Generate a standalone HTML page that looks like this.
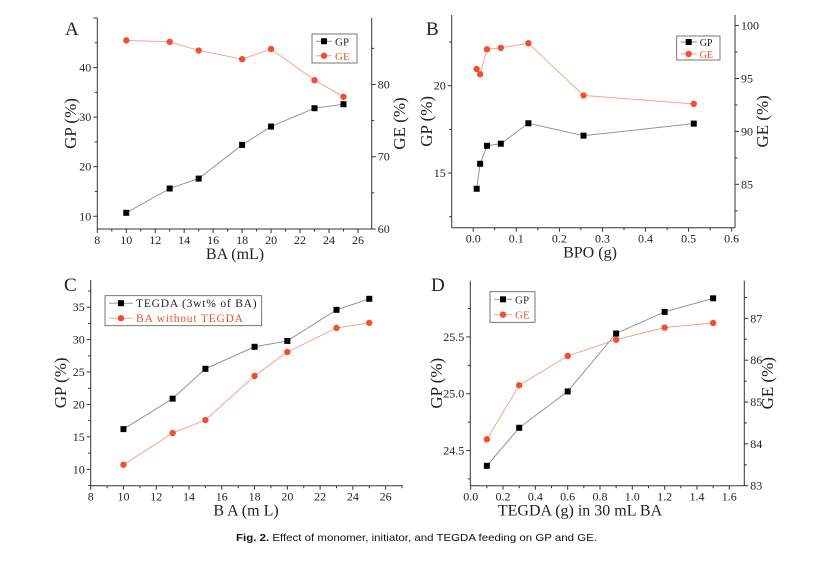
<!DOCTYPE html>
<html><head><meta charset="utf-8">
<style>
html,body{margin:0;padding:0;background:#fff;}
svg{display:block;}
text{font-family:"Liberation Serif",serif;}
</style></head>
<body>
<svg id="fig" width="839" height="569" viewBox="0 0 839 569" xmlns="http://www.w3.org/2000/svg">
<rect width="839" height="569" fill="#fff"/>
<text x="236" y="541" font-size="10.5" textLength="361" lengthAdjust="spacingAndGlyphs" style="font-family:'Liberation Sans',sans-serif" fill="#111"><tspan font-weight="bold">Fig. 2.</tspan> Effect of monomer, initiator, and TEGDA feeding on GP and GE.</text>
</svg>
<script>
// Panel A data
const aX = [10, 13, 15, 18, 20, 23, 25];
const aGP = [10.7, 15.6, 17.6, 24.4, 28.1, 31.8, 32.6];
const aGE = [86.1, 85.9, 84.7, 83.5, 84.9, 80.6, 78.3];
const aXTicks = [8, 10, 12, 14, 16, 18, 20, 22, 24, 26];
const aYTicks = [10, 20, 30, 40];
const aY2Ticks = [60, 70, 80];
// Panel B data
const bX = [0.008, 0.016, 0.032, 0.064, 0.128, 0.256, 0.512];
const bGP = [14.1, 15.53, 16.56, 16.68, 17.85, 17.14, 17.83];
const bGE = [95.9, 95.4, 97.76, 97.9, 98.33, 93.4, 92.6];
const bXTicks = [0.0, 0.1, 0.2, 0.3, 0.4, 0.5, 0.6];
const bYTicks = [15, 20];
const bY2Ticks = [85, 90, 95, 100];
// Panel C data
const cX = [10, 13, 15, 18, 20, 23, 25];
const cTEGDA = [16.2, 20.9, 25.5, 28.9, 29.8, 34.6, 36.3];
const cBA = [10.7, 15.6, 17.6, 24.4, 28.1, 31.8, 32.6];
const cXTicks = [8, 10, 12, 14, 16, 18, 20, 22, 24, 26];
const cYTicks = [10, 15, 20, 25, 30, 35];
// Panel D data
const dX = [0.1, 0.3, 0.6, 0.9, 1.2, 1.5];
const dGP = [24.365, 24.70, 25.02, 25.53, 25.72, 25.84];
const dGE = [84.11, 85.40, 86.10, 86.49, 86.78, 86.89];
const dXTicks = [0.0, 0.2, 0.4, 0.6, 0.8, 1.0, 1.2, 1.4, 1.6];
const dYTicks = [24.5, 25.0, 25.5];
const dY2Ticks = [83, 84, 85, 86, 87];

const NS = "http://www.w3.org/2000/svg";
const svg = document.getElementById('fig');
const RED = "#f0502f", LRED = "#f59a88", GRAY = "#8a8a8a";
function mk(tag, attrs, parent){
  const e = document.createElementNS(NS, tag);
  for (const k in attrs) e.setAttribute(k, attrs[k]);
  (parent||svg).appendChild(e);
  return e;
}
function txt(s, x, y, size, anchor, parent, fill, rot){
  const t = mk('text', {x:x, y:y, 'font-size':size, 'text-anchor':anchor, fill:fill||'#222'}, parent);
  if (rot) t.setAttribute('transform', 'rotate(-90 '+x+' '+y+')');
  t.textContent = s;
  return t;
}
function fmt(v, d){ return d===undefined ? String(v) : v.toFixed(d); }

function panel(cfg){
  const g = mk('g', {});
  
  
  const L=cfg.L, R=cfg.R, T=cfg.T, B=cfg.B;
  const sx = v => L + (v - cfg.x0) / (cfg.x1 - cfg.x0) * (R - L);
  const sy = v => B - (v - cfg.y0) / (cfg.y1 - cfg.y0) * (B - T);
  const sy2 = cfg.y20 !== undefined ? (v => B - (v - cfg.y20) / (cfg.y21 - cfg.y20) * (B - T)) : null;
  // axes
  const ax = mk('g', {stroke:'#333', 'stroke-width':1, fill:'none'}, g);
  
  
  mk('line', {x1:L, y1:T, x2:L, y2:B}, ax);
  mk('line', {x1:L, y1:B, x2:R, y2:B}, ax);
  if (sy2) mk('line', {x1:R, y1:T, x2:R, y2:B}, ax);
  // x ticks
  const xt = cfg.xTicks, xs = xt[1]-xt[0];
  xt.forEach((v,i)=>{
    const x = sx(v);
    mk('line', {x1:x, y1:B, x2:x, y2:B+4}, ax);
    const m = sx(v + xs/2);
    if (m < R) mk('line', {x1:m, y1:B, x2:m, y2:B+2.5}, ax);
    const lab = txt(fmt(v, cfg.xDec), x, B+15, 12, 'middle', g);
    
    
  });
  // y ticks
  const yt = cfg.yTicks, ys = yt[1]-yt[0];
  const yAll = [yt[0]-ys].concat(yt).concat([yt[yt.length-1]+ys]);
  yAll.forEach(v=>{
    [v, v+ys/2].forEach((w,j)=>{
      const y = sy(w);
      if (y>=T-0.5 && y<=B+0.5) mk('line', {x1:L, y1:y, x2:L-(j?2.5:4), y2:y}, ax);
    });
  });
  yt.forEach(v=>{
    const lab = txt(fmt(v, cfg.yDec), L-6, sy(v)+4, 12, 'end', g);
    
    
  });
  if (sy2){
    const y2 = cfg.y2Ticks, s2 = y2[1]-y2[0];
    const all2 = [y2[0]-s2].concat(y2).concat([y2[y2.length-1]+s2]);
    all2.forEach(v=>{
      [v, v+s2/2].forEach((w,j)=>{
        const y = sy2(w);
        if (y>=T-0.5 && y<=B+0.5) mk('line', {x1:R, y1:y, x2:R+(j?2.5:4), y2:y}, ax);
      });
    });
    y2.forEach(v=>{
      const lab = txt(fmt(v), R+6, sy2(v)+4, 12, 'start', g);
      
      
    });
  }
  // titles
  const xtl = txt(cfg.xTitle, cfg.xTitleX, B+30, 16, 'middle', g);
  
  
  const ytl = txt('GP (%)', cfg.yTitleX, (T+B)/2, 17, 'middle', g, '#222', true);
  
  
  if (sy2){
    const y2l = txt('GE (%)', cfg.y2TitleX, (T+B)/2, 17, 'middle', g, '#222', true);
    
    
  }
  const pl = txt(cfg.letter, cfg.letterX, cfg.letterY, 19, 'start', g);
  
  
  // series
  cfg.series.forEach(s=>{
    const scale = s.axis === 2 ? sy2 : sy;
    const sg = mk('g', {}, g);
    
    
    const pts = s.xs.map((x,i)=>sx(x).toFixed(1)+','+scale(s.ys[i]).toFixed(1)).join(' ');
    const line = mk('polyline', {points:pts, fill:'none', stroke:s.line, 'stroke-width':0.9}, sg);
    
    
    s.xs.forEach((x,i)=>{
      const px = sx(x), py = scale(s.ys[i]);
      let m;
      if (s.marker === 'sq') m = mk('rect', {x:px-3, y:py-3, width:6, height:6, fill:'#000'}, sg);
      else m = mk('circle', {cx:px, cy:py, r:3.2, fill:RED}, sg);
      
      
    });
  });
  // legend
  const lg = cfg.legend;
  const lgg = mk('g', {}, g);
  
  
  mk('rect', {x:lg.x, y:lg.y, width:lg.w, height:lg.h, fill:'#fff', stroke:'#555', 'stroke-width':0.8}, lgg);
  cfg.series.forEach((s,i)=>{
    const yy = lg.y + lg.h*(i*2+1)/4;
    const eg = mk('g', {}, lgg);
    
    
    mk('line', {x1:lg.x+4, y1:yy, x2:lg.x+lg.lw, y2:yy, stroke:s.line, 'stroke-width':0.9}, eg);
    const cx = lg.x + 4 + (lg.lw-4)/2;
    if (s.marker==='sq') mk('rect', {x:cx-3, y:yy-3, width:6, height:6, fill:'#000'}, eg);
    else mk('circle', {cx:cx, cy:yy, r:3.2, fill:RED}, eg);
    txt(s.label, lg.x+lg.lw+3, yy+4, lg.fs, 'start', eg, s.marker==='sq' ? '#222' : RED).setAttribute('letter-spacing', lg.ls||0);
  });
}

panel({name:'chart-a', letter:'A', letterX:65, letterY:35, L:97.3, R:371.7, T:18, B:229,
  x0:8, x1:26.95, y0:7.43, y1:50, y20:60, y21:89.2,
  xTicks:aXTicks, yTicks:aYTicks, y2Ticks:aY2Ticks,
  xTitle:'BA (mL)', xTitleX:235, yTitleX:76, y2TitleX:405,
  legend:{x:312, y:34, w:45, h:29, lw:20, fs:11},
  series:[
    {name:'series-gp', label:'GP', xs:aX, ys:aGP, marker:'sq', line:GRAY, axis:1},
    {name:'series-ge', label:'GE', xs:aX, ys:aGE, marker:'ci', line:LRED, axis:2}
  ]});
panel({name:'chart-b', letter:'B', letterX:426, letterY:35, L:451.7, R:735, T:15, B:227.7,
  x0:-0.05, x1:0.6077, y0:11.87, y1:24.05, y20:80.9, y21:101,
  xTicks:bXTicks, yTicks:bYTicks, y2Ticks:bY2Ticks, xDec:1,
  xTitle:'BPO (g)', xTitleX:590, yTitleX:432, y2TitleX:768,
  legend:{x:676.7, y:36, w:43.3, h:24, lw:20, fs:10},
  series:[
    {name:'series-gp', label:'GP', xs:bX, ys:bGP, marker:'sq', line:GRAY, axis:1},
    {name:'series-ge', label:'GE', xs:bX, ys:bGE, marker:'ci', line:LRED, axis:2}
  ]});
panel({name:'chart-c', letter:'C', letterX:64, letterY:291, L:90.7, R:402.7, T:280, B:485.7,
  x0:8, x1:27.04, y0:7.47, y1:39.2,
  xTicks:cXTicks, yTicks:cYTicks,
  xTitle:'B A  (m L)', xTitleX:246, yTitleX:66,
  legend:{x:105, y:295.7, w:156.7, h:30, lw:28, fs:11.5, ls:0.8},
  series:[
    {name:'series-tegda', label:'TEGDA (3wt% of BA)', xs:cX, ys:cTEGDA, marker:'sq', line:GRAY, axis:1},
    {name:'series-ba-without-tegda', label:'BA without TEGDA', xs:cX, ys:cBA, marker:'ci', line:LRED, axis:1}
  ]});
panel({name:'chart-d', letter:'D', letterX:431, letterY:291, L:470.3, R:744.3, T:280.7, B:485.7,
  x0:-0.0025, x1:1.693, y0:24.19, y1:25.995, y20:83, y21:87.9,
  xTicks:dXTicks, yTicks:dYTicks, y2Ticks:dY2Ticks, xDec:1, yDec:1,
  xTitle:'TEGDA (g) in 30 mL BA', xTitleX:580, yTitleX:442, y2TitleX:773,
  legend:{x:490, y:291.7, w:45, h:30.6, lw:22, fs:11},
  series:[
    {name:'series-gp', label:'GP', xs:dX, ys:dGP, marker:'sq', line:GRAY, axis:1},
    {name:'series-ge', label:'GE', xs:dX, ys:dGE, marker:'ci', line:LRED, axis:2}
  ]});
</script>
</body></html>
